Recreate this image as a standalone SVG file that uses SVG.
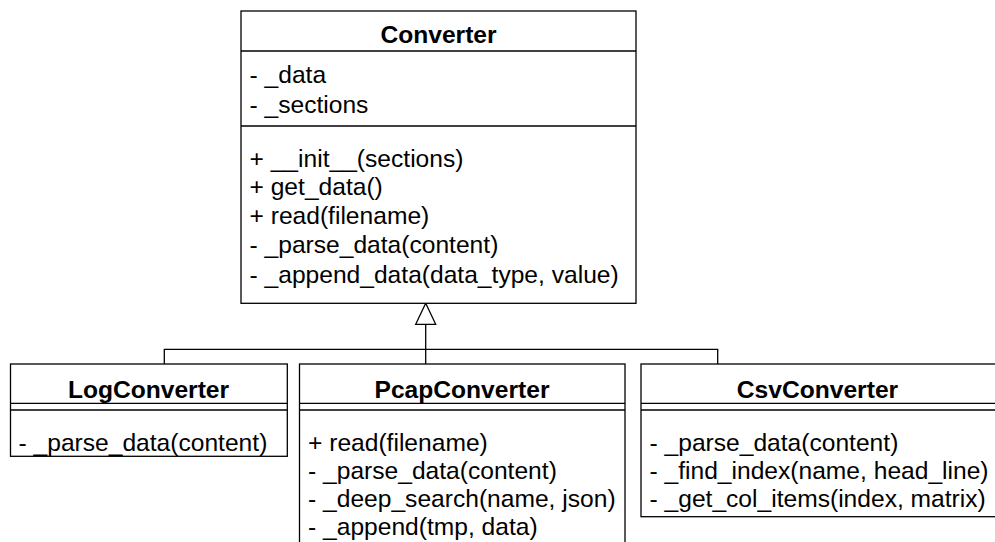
<svg xmlns="http://www.w3.org/2000/svg" width="995" height="542" viewBox="0 0 995 542">
  <style>
    .box { fill: #ffffff; stroke: #000000; stroke-width: 1.3; }
    .sep { stroke: #000000; stroke-width: 1.3; fill: none; }
    .edge { stroke: #000000; stroke-width: 1.3; fill: none; }
    .title { font-family: "Liberation Sans", Arial, Helvetica, sans-serif; font-size: 24.6px; font-weight: bold; fill: #000000; text-anchor: middle; }
    .member { font-family: "Liberation Sans", Arial, Helvetica, sans-serif; font-size: 24.6px; fill: #000000; }
  </style>

  <!-- inheritance connectors -->
  <g id="connectors">
    <path class="edge" d="M164.3,364 V349.3 H425.7"/>
    <path class="edge" d="M717.7,364 V349.3 H425.7"/>
    <path class="edge" d="M425.7,364 V324.3"/>
    <polygon class="edge" points="425.7,303.3 415.7,324.3 435.7,324.3" style="fill:#ffffff"/>
  </g>

  <!-- base class -->
  <g id="Converter">
    <rect class="box" x="241" y="11" width="395" height="292.3"/>
    <line class="sep" x1="241" y1="51" x2="636" y2="51"/>
    <line class="sep" x1="241" y1="126" x2="636" y2="126"/>
    <text class="title" x="438.5" y="43">Converter</text>
    <text class="member" x="249.5" y="83.3">- _data</text>
    <text class="member" x="249.5" y="112.7">- _sections</text>
    <text class="member" x="249.5" y="166.7">+ __init__(sections)</text>
    <text class="member" x="249.5" y="195">+ get_data()</text>
    <text class="member" x="249.5" y="224">+ read(filename)</text>
    <text class="member" x="249.5" y="252.7">- _parse_data(content)</text>
    <text class="member" x="249.5" y="282.7">- _append_data(data_type, value)</text>
  </g>

  <!-- subclasses -->
  <g id="LogConverter">
    <rect class="box" x="10.5" y="364" width="276.8" height="92.3"/>
    <line class="sep" x1="10.5" y1="403.3" x2="287.3" y2="403.3"/>
    <line class="sep" x1="10.5" y1="410" x2="287.3" y2="410"/>
    <text class="title" x="148.5" y="397.7">LogConverter</text>
    <text class="member" x="18.5" y="450.7">- _parse_data(content)</text>
  </g>

  <g id="PcapConverter">
    <rect class="box" x="299.5" y="364" width="325.5" height="200"/>
    <line class="sep" x1="299.5" y1="403.3" x2="625" y2="403.3"/>
    <line class="sep" x1="299.5" y1="410" x2="625" y2="410"/>
    <text class="title" x="462" y="397.7">PcapConverter</text>
    <text class="member" x="308" y="450.7">+ read(filename)</text>
    <text class="member" x="308" y="478.7">- _parse_data(content)</text>
    <text class="member" x="308" y="506.7">- _deep_search(name, json)</text>
    <text class="member" x="308" y="535">- _append(tmp, data)</text>
  </g>

  <g id="CsvConverter">
    <rect class="box" x="641" y="364" width="360" height="152.7"/>
    <line class="sep" x1="641" y1="403.3" x2="1001" y2="403.3"/>
    <line class="sep" x1="641" y1="410" x2="1001" y2="410"/>
    <text class="title" x="817.5" y="397.7">CsvConverter</text>
    <text class="member" x="649.5" y="450.7">- _parse_data(content)</text>
    <text class="member" x="649.5" y="478.7">- _find_index(name, head_line)</text>
    <text class="member" x="649.5" y="506.7">- _get_col_items(index, matrix)</text>
  </g>
</svg>
